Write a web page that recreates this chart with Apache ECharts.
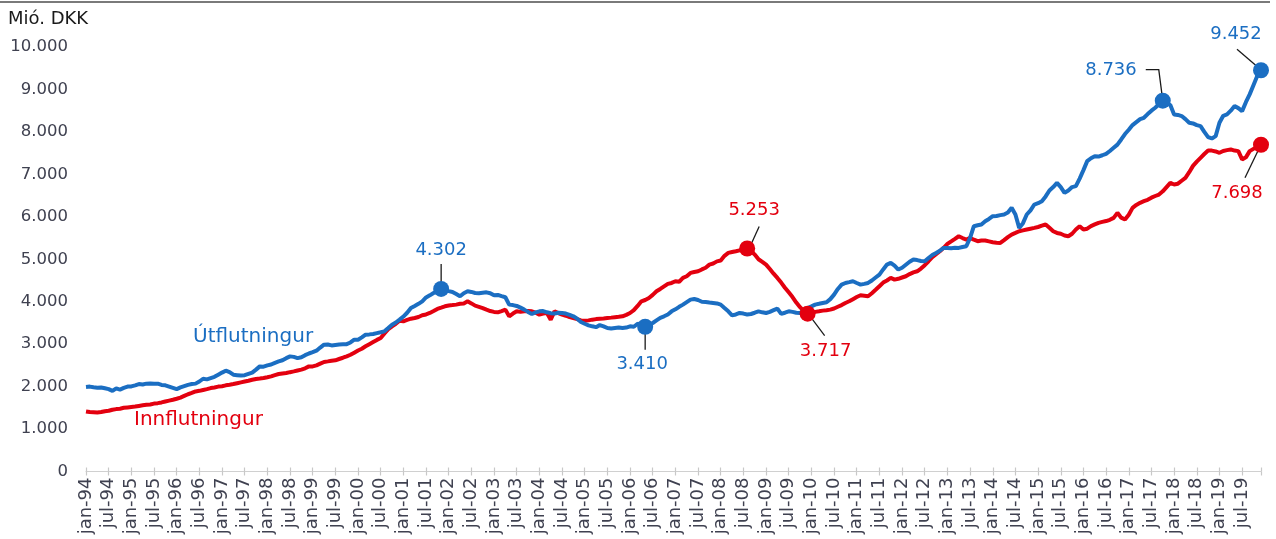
<!DOCTYPE html>
<html>
<head>
<meta charset="utf-8">
<script src="https://cdn.jsdelivr.net/npm/echarts@6/dist/echarts.min.js"></script>
<style>
  html, body { margin: 0; padding: 0; background: #fff; }
  #chart { width: 1276px; height: 539px; }
</style>
</head>
<body>
<div id="chart"></div>
<script>
// Monthly export and import values, million DKK, jan-94 .. dec-19
const monthNames = ['jan', 'feb', 'mar', 'apr', 'maj', 'jun', 'jul', 'aug', 'sep', 'okt', 'nov', 'dec'];
const firstYear = 1994;
const lastYear = 2019;

const utflutningur = [
  1990, 2000, 1985, 1975, 1980, 1960, 1940, 1900, 1960, 1930, 1970, 2000, // 1994
  2005, 2030, 2060, 2050, 2070, 2075, 2065, 2070, 2040, 2030, 2000, 1970, // 1995
  1940, 1980, 2010, 2040, 2060, 2070, 2120, 2185, 2170, 2200, 2230, 2280, // 1996
  2330, 2375, 2340, 2280, 2270, 2260, 2270, 2300, 2330, 2400, 2476, 2470, // 1997
  2500, 2520, 2560, 2594, 2620, 2670, 2712, 2700, 2670, 2690, 2740, 2780, // 1998
  2810, 2846, 2920, 2987, 2990, 2970, 2980, 2990, 2995, 3000, 3040, 3105, // 1999
  3105, 3160, 3223, 3230, 3240, 3260, 3280, 3302, 3380, 3459, 3510, 3577, // 2000
  3650, 3740, 3852, 3900, 3950, 4009, 4100, 4150, 4206, 4250, 4302, 4280, // 2001
  4250, 4230, 4180, 4127, 4200, 4245, 4230, 4206, 4200, 4210, 4220, 4200, // 2002
  4150, 4160, 4130, 4104, 3931, 3920, 3900, 3860, 3813, 3760, 3710, 3750, // 2003
  3773, 3780, 3750, 3730, 3720, 3740, 3734, 3720, 3690, 3656, 3600, 3522, // 2004
  3480, 3443, 3420, 3400, 3450, 3420, 3380, 3370, 3380, 3390, 3380, 3390, // 2005
  3420, 3410, 3480, 3460, 3410, 3450, 3498, 3560, 3620, 3656, 3700, 3773, // 2006
  3820, 3880, 3931, 3990, 4049, 4064, 4040, 4000, 3993, 3980, 3970, 3960, // 2007
  3931, 3850, 3773, 3679, 3700, 3734, 3720, 3700, 3710, 3740, 3773, 3750, // 2008
  3734, 3760, 3800, 3837, 3711, 3740, 3773, 3760, 3740, 3734, 3790, 3852, // 2009
  3890, 3931, 3950, 3970, 3986, 4060, 4167, 4300, 4403, 4440, 4460, 4481, // 2010
  4440, 4403, 4420, 4442, 4500, 4570, 4639, 4760, 4874, 4913, 4850, 4757, // 2011
  4800, 4870, 4940, 4993, 4980, 4960, 4953, 5030, 5100, 5149, 5200, 5267, // 2012
  5267, 5260, 5270, 5267, 5290, 5307, 5503, 5778, 5800, 5818, 5896, 5950, // 2013
  6014, 6020, 6040, 6054, 6100, 6211, 6054, 5739, 5850, 6054, 6150, 6289, // 2014
  6320, 6368, 6480, 6620, 6700, 6800, 6700, 6564, 6620, 6700, 6722, 6900, // 2015
  7100, 7311, 7380, 7429, 7420, 7450, 7484, 7550, 7625, 7700, 7822, 7950, // 2016
  8050, 8160, 8230, 8300, 8333, 8420, 8500, 8569, 8650, 8736, 8690, 8632, // 2017
  8412, 8400, 8373, 8300, 8215, 8200, 8160, 8137, 8000, 7877, 7846, 7900, // 2018
  8215, 8380, 8412, 8500, 8608, 8560, 8490, 8700, 8884, 9100, 9316, 9452  // 2019
];

const innflutningur = [
  1415, 1400, 1395, 1390, 1400, 1420, 1430, 1455, 1470, 1480, 1500, 1510, // 1994
  1520, 1530, 1545, 1560, 1572, 1580, 1600, 1610, 1627, 1650, 1670, 1690, // 1995
  1714, 1740, 1780, 1820, 1850, 1887, 1900, 1920, 1940, 1965, 1980, 2000, // 1996
  2010, 2030, 2044, 2060, 2080, 2100, 2120, 2138, 2160, 2180, 2190, 2201, // 1997
  2220, 2240, 2270, 2296, 2310, 2320, 2340, 2358, 2380, 2400, 2430, 2476, // 1998
  2476, 2500, 2540, 2580, 2594, 2610, 2620, 2650, 2680, 2712, 2750, 2800, // 1999
  2850, 2893, 2950, 3000, 3050, 3100, 3145, 3250, 3350, 3420, 3480, 3553, // 2000
  3538, 3570, 3600, 3616, 3640, 3680, 3700, 3734, 3780, 3830, 3860, 3891, // 2001
  3910, 3920, 3931, 3950, 3960, 4009, 3960, 3907, 3880, 3850, 3813, 3780, // 2002
  3760, 3750, 3780, 3813, 3656, 3720, 3773, 3760, 3773, 3780, 3773, 3740, // 2003
  3695, 3720, 3734, 3577, 3773, 3730, 3695, 3670, 3640, 3616, 3590, 3560, // 2004
  3553, 3560, 3577, 3590, 3600, 3605, 3616, 3625, 3635, 3645, 3656, 3690, // 2005
  3734, 3800, 3900, 4009, 4040, 4088, 4160, 4245, 4300, 4360, 4420, 4442, // 2006
  4481, 4470, 4560, 4600, 4678, 4700, 4717, 4760, 4800, 4874, 4900, 4950, // 2007
  4969, 5080, 5149, 5170, 5189, 5210, 5230, 5253, 5200, 5110, 5000, 4940, // 2008
  4874, 4770, 4660, 4560, 4450, 4330, 4220, 4110, 3980, 3870, 3780, 3717, // 2009
  3740, 3760, 3773, 3790, 3800, 3813, 3840, 3880, 3920, 3970, 4010, 4060, // 2010
  4110, 4151, 4140, 4127, 4200, 4280, 4363, 4450, 4500, 4560, 4520, 4540, // 2011
  4570, 4599, 4650, 4690, 4717, 4780, 4860, 4953, 5050, 5120, 5189, 5270, // 2012
  5361, 5420, 5480, 5542, 5500, 5464, 5503, 5460, 5425, 5440, 5440, 5420, // 2013
  5400, 5390, 5385, 5450, 5520, 5582, 5620, 5660, 5680, 5700, 5720, 5739, // 2014
  5760, 5790, 5818, 5740, 5660, 5620, 5600, 5560, 5542, 5600, 5700, 5778, // 2015
  5700, 5720, 5780, 5820, 5857, 5880, 5900, 5930, 5975, 6093, 5980, 5936, // 2016
  6050, 6211, 6280, 6330, 6368, 6400, 6450, 6490, 6525, 6600, 6700, 6800, // 2017
  6761, 6780, 6850, 6918, 7050, 7200, 7300, 7390, 7480, 7563, 7560, 7540, // 2018
  7508, 7550, 7570, 7587, 7560, 7547, 7351, 7400, 7547, 7600, 7650, 7698  // 2019
];

// Months (as indices into the series) that get a value callout
const utflutningurCallouts = [94, 148, 285, 311];
const innflutningurCallouts = [175, 191, 311];

// Y axis
const yMin = 0;
const yMax = 10000;
const yStep = 1000;

// Category labels like "jan-94"
const categories = [];
for (let y = firstYear; y <= lastYear; y++) {
  for (let m = 0; m < 12; m++) {
    categories.push(monthNames[m] + '-' + String(y).slice(2));
  }
}

const BLUE = '#1b6ec2';
const RED = '#e3000f';
const FONT = '"DejaVu Sans", Verdana, sans-serif';

function thousands(v) {
  return String(Math.round(v)).replace(/\B(?=(\d{3})+(?!\d))/g, '.');
}

// Leader line (pixel offsets from the point) and label placement for each callout
const calloutStyle = {
  'utflutningur': [
    { line: [[0, -6], [0, -25]], text: [0, -39], align: 'center' },
    { line: [[0, 6], [0, 23]], text: [-3, 38], align: 'center' },
    { line: [[0, 0], [-4, -31], [-17, -31]], text: [-26, -30], align: 'right' },
    { line: [[-3, -3], [-24, -21]], text: [-25, -36], align: 'center' }
  ],
  'innflutningur': [
    { line: [[2, 0], [12, -22]], text: [7, -38], align: 'center' },
    { line: [[2, 2], [17, 22]], text: [18, 38], align: 'center' },
    { line: [[-3, 6], [-16, 33]], text: [-24, 49], align: 'center' }
  ]
};

function calloutSeries(name, indices, values, color) {
  return {
    type: 'custom',
    name: name,
    xAxisIndex: 0,
    yAxisIndex: 0,
    clip: false,
    z: 5,
    encode: { x: 0, y: 1 },
    data: indices.map(i => [i, values[i]]),
    renderItem: function (params, api) {
      const p = api.coord([api.value(0), api.value(1)]);
      const cfg = calloutStyle[name][params.dataIndex];
      return {
        type: 'group',
        children: [
          {
            type: 'polyline',
            shape: { points: cfg.line.map(o => [p[0] + o[0], p[1] + o[1]]) },
            style: { stroke: '#1a1a1a', lineWidth: 1.3, fill: null }
          },
          {
            type: 'circle',
            shape: { cx: p[0], cy: p[1], r: 8 },
            style: { fill: color }
          },
          {
            type: 'text',
            x: p[0] + cfg.text[0],
            y: p[1] + cfg.text[1],
            style: {
              text: thousands(api.value(1)),
              fill: color,
              font: '18px ' + FONT,
              align: cfg.align,
              verticalAlign: 'middle'
            }
          }
        ]
      };
    }
  };
}

const chart = echarts.init(document.getElementById('chart'), null, { renderer: 'canvas' });

const everySixth = (i) => i % 6 === 0;

chart.setOption({
  animation: false,
  backgroundColor: '#ffffff',
  textStyle: { fontFamily: FONT },
  grid: { left: 86, right: 15, top: 47, bottom: 67.5, containLabel: false },
  xAxis: [
    {
      type: 'category',
      data: categories,
      boundaryGap: false,
      axisLine: { lineStyle: { color: '#d0d0d0', width: 1.2 } },
      axisTick: {
        show: true,
        interval: (i) => everySixth(i) || i === categories.length - 1,
        length: 4,
        lineStyle: { color: '#c8c8c8', width: 1.2 }
      },
      axisLabel: {
        interval: (i) => everySixth(i),
        rotate: 90,
        margin: 6,
        color: '#3f4150',
        fontSize: 18,
        fontFamily: FONT
      },
      splitLine: { show: false }
    },
    {
      type: 'category',
      data: categories,
      boundaryGap: false,
      position: 'bottom',
      axisLine: { show: false },
      axisTick: {
        show: true,
        inside: true,
        interval: (i) => everySixth(i) || i === categories.length - 1,
        length: 4,
        lineStyle: { color: '#c8c8c8', width: 1.2 }
      },
      axisLabel: { show: false },
      splitLine: { show: false }
    }
  ],
  yAxis: {
    type: 'value',
    min: yMin,
    max: yMax,
    interval: yStep,
    axisLine: { show: false },
    axisTick: { show: false },
    splitLine: { show: false },
    axisLabel: {
      margin: 18,
      color: '#3f4150',
      fontSize: 16.5,
      fontFamily: FONT,
      formatter: (v) => thousands(v)
    }
  },
  series: [
    {
      type: 'line',
      name: 'innflutningur',
      data: innflutningur,
      showSymbol: false,
      lineStyle: { color: RED, width: 4 },
      itemStyle: { color: RED },
      z: 2
    },
    {
      type: 'line',
      name: 'utflutningur',
      data: utflutningur,
      showSymbol: false,
      lineStyle: { color: BLUE, width: 4 },
      itemStyle: { color: BLUE },
      z: 3
    },
    calloutSeries('utflutningur', utflutningurCallouts, utflutningur, BLUE),
    calloutSeries('innflutningur', innflutningurCallouts, innflutningur, RED)
  ],
  graphic: [
    {
      type: 'line',
      shape: { x1: 0, y1: 2, x2: 1270, y2: 2 },
      style: { stroke: '#7a7a7a', lineWidth: 2 }
    },
    {
      type: 'text',
      left: 8,
      top: 10,
      style: { text: 'Mió. DKK', fill: '#1a1a1a', font: '18px ' + FONT }
    },
    {
      type: 'text',
      left: 193,
      top: 327,
      style: { text: 'Útflutningur', fill: BLUE, font: '20px ' + FONT }
    },
    {
      type: 'text',
      left: 134,
      top: 410,
      style: { text: 'Innflutningur', fill: RED, font: '20px ' + FONT }
    }
  ]
});
</script>
</body>
</html>
